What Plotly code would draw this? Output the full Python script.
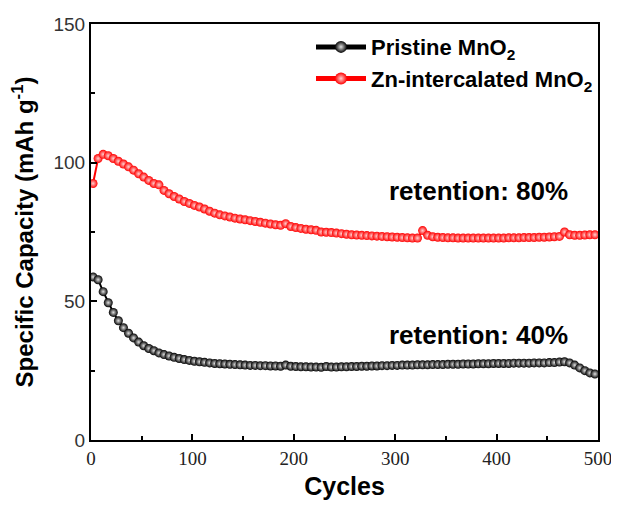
import plotly.graph_objects as go

cycles = list(range(2, 500, 5))

pristine = [58.8, 57.8, 53.5, 49.5, 46.0, 43.0, 40.5, 38.5, 36.8, 35.3,
            34.0, 33.0, 32.2, 31.4, 30.8, 30.3, 29.8, 29.4, 29.0, 28.7,
            28.4, 28.2, 28.0, 27.8, 27.6, 27.5, 27.4, 27.3, 27.2, 27.1,
            27.0, 26.9, 26.9, 26.8, 26.8, 26.7, 26.7, 26.6, 27.0, 26.6,
            26.5, 26.4, 26.4, 26.3, 26.3, 26.2, 26.5, 26.3, 26.3, 26.4,
            26.4, 26.5, 26.5, 26.6, 26.6, 26.7, 26.7, 26.8, 26.8, 26.9,
            26.9, 27.0, 27.0, 27.0, 27.1, 27.1, 27.1, 27.2, 27.2, 27.2,
            27.3, 27.3, 27.3, 27.4, 27.4, 27.4, 27.5, 27.5, 27.5, 27.6,
            27.6, 27.6, 27.6, 27.7, 27.7, 27.7, 27.7, 27.8, 27.8, 27.8,
            27.9, 27.9, 28.1, 28.2, 27.8, 27.0, 26.0, 25.0, 24.2, 23.8]

zn_intercalated = [92.5, 101.5, 103.0, 102.5, 101.5, 100.5, 99.5, 98.5, 97.3, 96.0,
                   94.8, 93.6, 92.5, 92.0, 90.0, 88.8, 87.8, 86.9, 86.0, 85.3,
                   84.6, 84.0, 83.3, 82.5, 81.8, 81.2, 80.8, 80.4, 80.0, 79.7,
                   79.4, 79.1, 78.8, 78.5, 78.2, 77.9, 77.6, 77.4, 78.0, 77.0,
                   76.6, 76.3, 76.0, 75.8, 75.6, 75.0, 74.9, 74.8, 74.6, 74.4,
                   74.2, 74.0, 73.9, 73.8, 73.7, 73.6, 73.5, 73.4, 73.3, 73.2,
                   73.1, 73.0, 72.9, 72.8, 72.8, 75.5, 73.8, 73.3, 73.1, 73.0,
                   72.9, 72.9, 72.8, 72.8, 72.8, 72.8, 72.8, 72.8, 72.8, 72.8,
                   72.8, 72.8, 72.9, 72.9, 72.9, 73.0, 73.0, 73.0, 73.1, 73.1,
                   73.2, 73.3, 73.4, 75.0, 74.0, 73.8, 73.8, 73.9, 74.0, 74.0]

series_names = ["<b>Pristine MnO<sub>2</sub></b>", "<b>Zn-intercalated MnO<sub>2</sub></b>"]
annotations_text = ["retention: 80%", "retention: 40%"]

fig = go.Figure()
fig.add_trace(go.Scatter(
    x=cycles, y=pristine, name=series_names[0], mode="lines+markers",
    line=dict(color="black", width=2),
    marker=dict(size=9, color="black", gradient=dict(type="radial", color="#e0e0e0"),
                line=dict(width=0)),
))
fig.add_trace(go.Scatter(
    x=cycles, y=zn_intercalated, name=series_names[1], mode="lines+markers",
    line=dict(color="red", width=2),
    marker=dict(size=9, color="#ff0000", gradient=dict(type="radial", color="#ffd0d0"),
                line=dict(width=0)),
))

axis_common = dict(
    showline=True, linecolor="black", linewidth=2, mirror=True,
    ticks="inside", ticklen=6, tickwidth=1.5, tickcolor="black",
    showgrid=False, zeroline=False, automargin=False,
)

fig.update_xaxes(
    range=[0, 500], dtick=100, tick0=0,
    minor=dict(ticks="inside", ticklen=4, dtick=50, tickcolor="black", tickwidth=1.5),
    tickfont=dict(family="Liberation Serif", size=19, color="#222"),
    ticklabeloverflow="allow",
    title=dict(text="<b>Cycles</b>", font=dict(family="Liberation Sans", size=25, color="black"),
               standoff=10),
    **axis_common,
)
fig.update_yaxes(
    range=[0, 150], dtick=50, tick0=0,
    minor=dict(ticks="inside", ticklen=4, dtick=25, tickcolor="black", tickwidth=1.5),
    tickfont=dict(family="Liberation Sans", size=19, color="#333"),
    title=dict(text="<b>Specific Capacity (mAh g<sup>-1</sup>)</b>",
               font=dict(family="Liberation Sans", size=24, color="black"), standoff=13),
    **axis_common,
)

fig.add_annotation(x=0.765, y=0.599, xref="paper", yref="paper", xanchor="center", yanchor="middle",
                   text="<b>" + annotations_text[0] + "</b>",
                   showarrow=False, font=dict(family="Liberation Sans", size=26, color="black"))
fig.add_annotation(x=0.765, y=0.252, xref="paper", yref="paper", xanchor="center", yanchor="middle",
                   text="<b>" + annotations_text[1] + "</b>",
                   showarrow=False, font=dict(family="Liberation Sans", size=26, color="black"))

# page body has an 8px margin, so the figure is 16px smaller than the window
fig.update_layout(
    width=603, height=492,
    margin=dict(l=83, r=13, t=16, b=60),
    plot_bgcolor="white", paper_bgcolor="white",
    showlegend=True,
    legend=dict(x=1.0, y=0.995, xanchor="right", yanchor="top",
                bgcolor="rgba(0,0,0,0)", borderwidth=0,
                font=dict(family="Liberation Sans", size=22, color="black"),
                itemsizing="constant", itemwidth=50, tracegroupgap=7),
)

fig.write_html("out.html")
